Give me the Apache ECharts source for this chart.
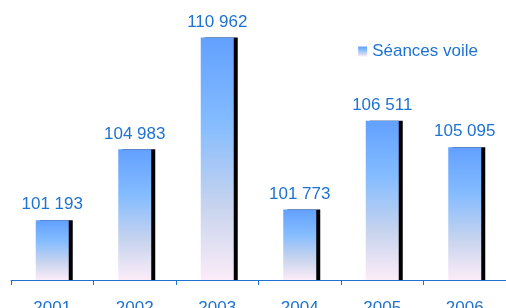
<!DOCTYPE html>
<html>
<head>
<meta charset="utf-8">
<script src="https://cdn.jsdelivr.net/npm/echarts@6/dist/echarts.min.js"></script>
<style>
html, body { margin: 0; padding: 0; background: #fff; }
#chart { width: 506px; height: 308px; }
</style>
</head>
<body>
<div id="chart"></div>
<script>
var years = ['2001', '2002', '2003', '2004', '2005', '2006'];
var seances = [101193, 104983, 110962, 101773, 106511, 105095];
var seriesName = 'Séances voile';

var blue = '#1f72d2';
var font = 'Liberation Sans, Arial';
var barFill = new echarts.graphic.LinearGradient(0, 0, 0, 1, [
	{ offset: 0, color: '#62a0ff' },
	{ offset: 0.35, color: '#84bcff' },
	{ offset: 0.7, color: '#c8d4ee' },
	{ offset: 1, color: '#fcecf8' }
]);

var fmt = function (v) {
	var s = String(v);
	return s.slice(0, s.length - 3) + ' ' + s.slice(-3);
};

var chart = echarts.init(document.getElementById('chart'));
chart.setOption({
	animation: false,
	grid: { left: 11, right: 0, top: 18, bottom: 28, containLabel: false, outerBoundsMode: 'none' },
	legend: {
		data: [{ name: seriesName, icon: 'rect' }],
		right: 23,
		top: 38,
		itemWidth: 9,
		itemHeight: 10,
		itemGap: 7,
		textStyle: { color: blue, fontSize: 17, fontFamily: font }
	},
	xAxis: {
		type: 'category',
		data: years,
		z: 3,
		axisLine: { show: true, lineStyle: { color: blue, width: 1 } },
		axisTick: { show: true, length: 5, lineStyle: { color: blue, width: 1 } },
		axisLabel: { color: blue, fontSize: 17, margin: 20, fontFamily: font }
	},
	yAxis: {
		type: 'value',
		min: 98000,
		max: 112000,
		show: false,
		splitLine: { show: false }
	},
	series: [{
		name: seriesName,
		type: 'bar',
		data: seances,
		barWidth: 33,
		itemStyle: {
			color: barFill,
			shadowColor: '#000',
			shadowOffsetX: 4,
			shadowOffsetY: 0,
			shadowBlur: 0
		},
		label: {
			show: true,
			position: 'top',
			distance: 7,
			color: blue,
			fontSize: 17,
			fontFamily: font,
			formatter: function (p) { return fmt(p.value); }
		}
	}]
});
</script>
</body>
</html>
